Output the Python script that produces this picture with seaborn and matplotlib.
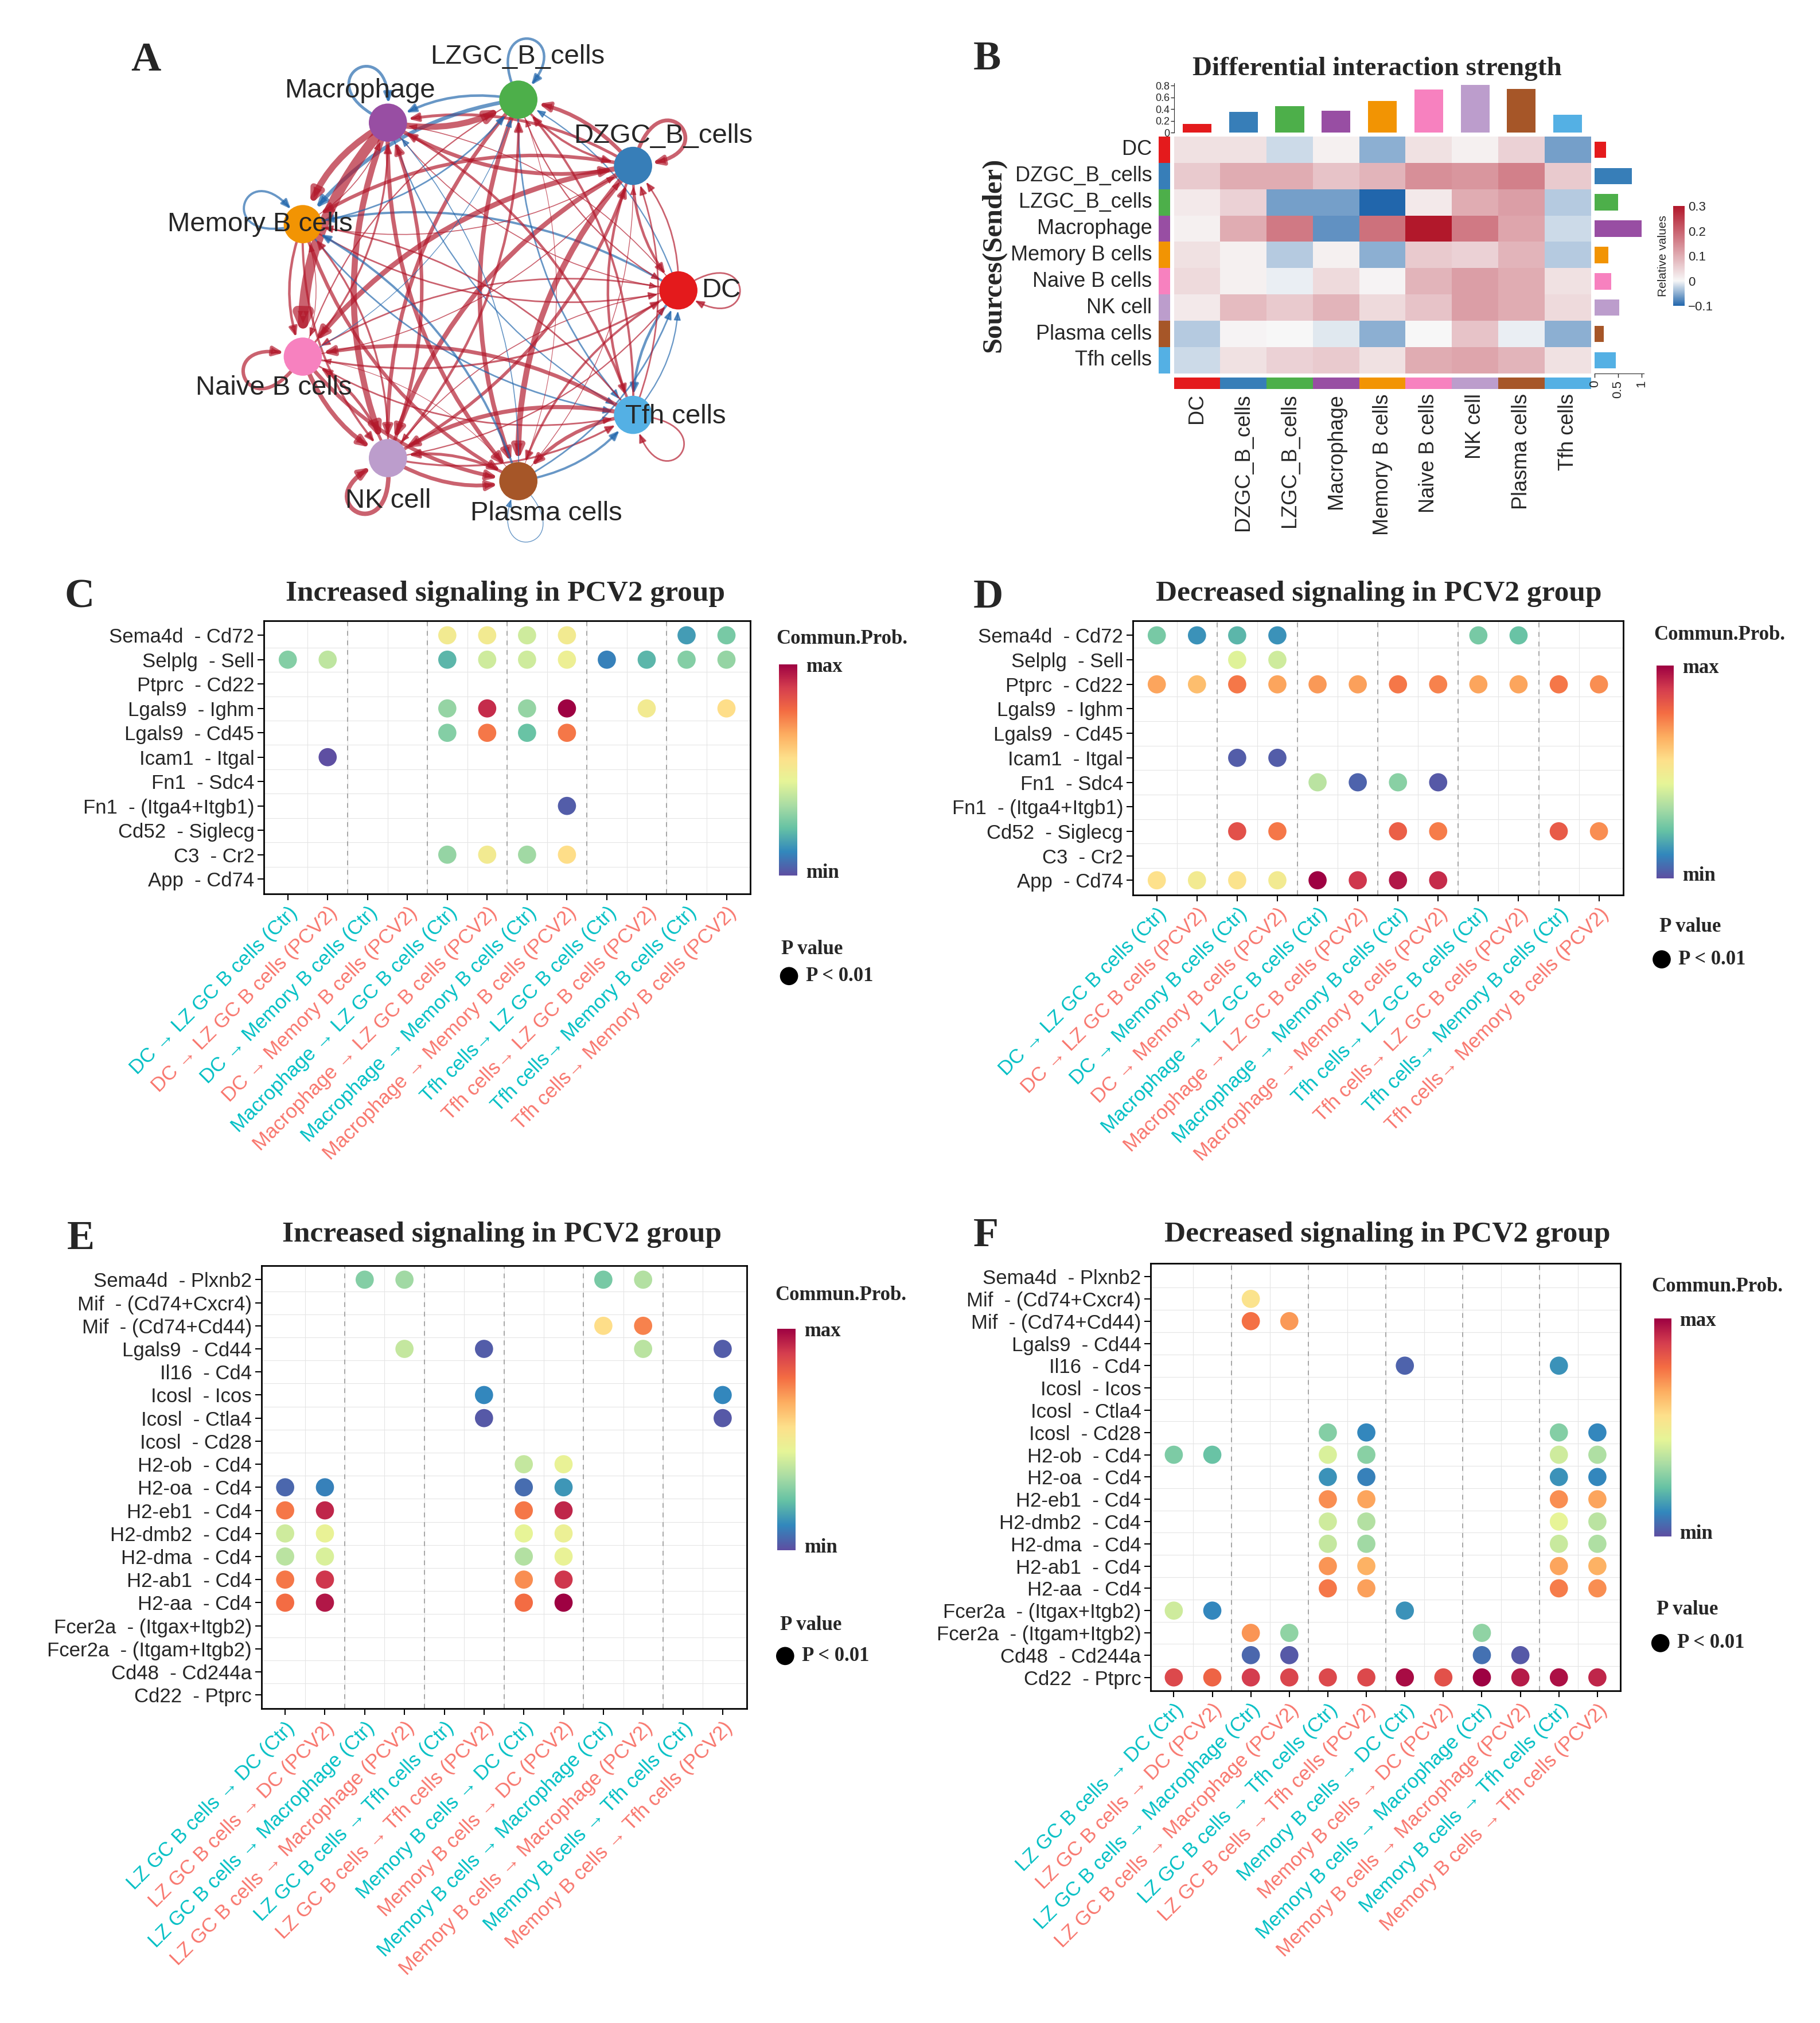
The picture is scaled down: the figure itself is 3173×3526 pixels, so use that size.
import numpy as np
import pandas as pd
import matplotlib
matplotlib.use('Agg')
import matplotlib.pyplot as plt
import seaborn as sns
from matplotlib.colors import LinearSegmentedColormap, ListedColormap
from matplotlib.patches import FancyArrowPatch
from matplotlib.path import Path

n = np.nan

# ---------------- data ----------------
cell_types = ['DC', 'DZGC_B_cells', 'LZGC_B_cells', 'Macrophage', 'Memory B cells',
              'Naive B cells', 'NK cell', 'Plasma cells', 'Tfh cells']
node_colors = ['#E41A1C', '#377EB8', '#4DAF4A', '#984EA3', '#F29403',
               '#F781BF', '#BC9DCC', '#A65628', '#54B0E4']

# differential interaction strength, rows = sender, cols = receiver
diff_dc = [0.03, 0.03, -0.02, 0.01, -0.05, 0.03, 0.01, 0.05, -0.06]
diff_dzgc = [0.06, 0.10, 0.10, 0.07, 0.09, 0.14, 0.13, 0.16, 0.06]
diff_lzgc = [0.02, 0.05, -0.06, -0.06, -0.10, 0.02, 0.10, 0.12, -0.03]
diff_macro = [0.01, 0.10, 0.17, -0.07, 0.18, 0.30, 0.17, 0.11, -0.02]
diff_memb = [0.03, 0.01, -0.03, 0.01, -0.05, 0.06, 0.05, 0.09, -0.03]
diff_naive = [0.04, 0.01, -0.005, 0.04, 0.005, 0.09, 0.12, 0.10, 0.03]
diff_nk = [0.02, 0.08, 0.06, 0.09, 0.04, 0.07, 0.12, 0.10, 0.04]
diff_plasma = [-0.03, 0.005, 0.001, -0.01, -0.05, 0.001, 0.07, -0.005, -0.05]
diff_tfh = [-0.02, 0.03, 0.05, 0.06, 0.03, 0.10, 0.11, 0.09, 0.03]
diff_rows = [diff_dc, diff_dzgc, diff_lzgc, diff_macro, diff_memb,
             diff_naive, diff_nk, diff_plasma, diff_tfh]

top_bar = [0.145, 0.35, 0.45, 0.37, 0.54, 0.73, 0.81, 0.74, 0.30]
right_bar = [0.24, 0.80, 0.50, 1.00, 0.29, 0.35, 0.52, 0.19, 0.45]

# bubble plots C / D
cd_cols = ['DC \u2192 LZ GC B cells (Ctr)', 'DC \u2192 LZ GC B cells (PCV2)',
           'DC \u2192 Memory B cells (Ctr)', 'DC \u2192 Memory B cells (PCV2)',
           'Macrophage \u2192 LZ GC B cells (Ctr)', 'Macrophage \u2192 LZ GC B cells (PCV2)',
           'Macrophage \u2192 Memory B cells (Ctr)', 'Macrophage \u2192 Memory B cells (PCV2)',
           'Tfh cells\u2192 LZ GC B cells (Ctr)', 'Tfh cells\u2192 LZ GC B cells (PCV2)',
           'Tfh cells\u2192 Memory B cells (Ctr)', 'Tfh cells\u2192 Memory B cells (PCV2)']
cd_rows = ['Sema4d  - Cd72', 'Selplg  - Sell', 'Ptprc  - Cd22', 'Lgals9  - Ighm',
           'Lgals9  - Cd45', 'Icam1  - Itgal', 'Fn1  - Sdc4', 'Fn1  - (Itga4+Itgb1)',
           'Cd52  - Siglecg', 'C3  - Cr2', 'App  - Cd74']
c_prob = [
    [n, n, n, n, .50, .50, .40, .50, n, n, .15, .25],
    [.27, .37, n, n, .20, .40, .40, .48, .10, .20, .27, .30],
    [n] * 12,
    [n, n, n, n, .30, .92, .30, 1.0, n, .50, n, .56],
    [n, n, n, n, .27, .76, .23, .76, n, n, n, n],
    [n, .00, n, n, n, n, n, n, n, n, n, n],
    [n] * 12,
    [n, n, n, n, n, n, n, .03, n, n, n, n],
    [n] * 12,
    [n, n, n, n, .30, .50, .32, .56, n, n, n, n],
    [n] * 12,
]
d_prob = [
    [.25, .13, .20, .13, n, n, n, n, .25, .23, n, n],
    [n, n, .43, .40, n, n, n, n, n, n, n, n],
    [.68, .63, .76, .68, .70, .69, .76, .74, .68, .68, .76, .72],
    [n] * 12,
    [n] * 12,
    [n, n, .03, .03, n, n, n, n, n, n, n, n],
    [n, n, n, n, .36, .04, .28, .02, n, n, n, n],
    [n] * 12,
    [n, n, .84, .76, n, n, .81, .75, n, n, .82, .72],
    [n] * 12,
    [.55, .50, .54, .50, 1.0, .90, .96, .92, n, n, n, n],
]

# bubble plots E / F
ef_cols = ['LZ GC B cells \u2192 DC (Ctr)', 'LZ GC B cells \u2192 DC (PCV2)',
           'LZ GC B cells \u2192 Macrophage (Ctr)', 'LZ GC B cells \u2192 Macrophage (PCV2)',
           'LZ GC B cells \u2192 Tfh cells (Ctr)', 'LZ GC B cells \u2192 Tfh cells (PCV2)',
           'Memory B cells \u2192 DC (Ctr)', 'Memory B cells \u2192 DC (PCV2)',
           'Memory B cells \u2192 Macrophage (Ctr)', 'Memory B cells \u2192 Macrophage (PCV2)',
           'Memory B cells \u2192 Tfh cells (Ctr)', 'Memory B cells \u2192 Tfh cells (PCV2)']
ef_rows = ['Sema4d  - Plxnb2', 'Mif  - (Cd74+Cxcr4)', 'Mif  - (Cd74+Cd44)', 'Lgals9  - Cd44',
           'Il16  - Cd4', 'Icosl  - Icos', 'Icosl  - Ctla4', 'Icosl  - Cd28', 'H2-ob  - Cd4',
           'H2-oa  - Cd4', 'H2-eb1  - Cd4', 'H2-dmb2  - Cd4', 'H2-dma  - Cd4', 'H2-ab1  - Cd4',
           'H2-aa  - Cd4', 'Fcer2a  - (Itgax+Itgb2)', 'Fcer2a  - (Itgam+Itgb2)',
           'Cd48  - Cd244a', 'Cd22  - Ptprc']
e_prob = [
    [n, n, .27, .32, n, n, n, n, .25, .35, n, n],
    [n] * 12,
    [n, n, n, n, n, n, n, n, .56, .74, n, n],
    [n, n, n, .38, n, .03, n, n, n, .36, n, .03],
    [n] * 12,
    [n, n, n, n, n, .11, n, n, n, n, n, .11],
    [n, n, n, n, n, .02, n, n, n, n, n, .02],
    [n] * 12,
    [n, n, n, n, n, n, .38, .46, n, n, n, n],
    [.05, .10, n, n, n, n, .06, .14, n, n, n, n],
    [.76, .93, n, n, n, n, .76, .93, n, n, n, n],
    [.40, .46, n, n, n, n, .45, .47, n, n, n, n],
    [.36, .42, n, n, n, n, .35, .46, n, n, n, n],
    [.76, .90, n, n, n, n, .72, .90, n, n, n, n],
    [.78, .96, n, n, n, n, .78, 1.0, n, n, n, n],
    [n] * 12,
    [n] * 12,
    [n] * 12,
    [n] * 12,
]
f_prob = [
    [n] * 12,
    [n, n, .54, n, n, n, n, n, n, n, n, n],
    [n, n, .77, .70, n, n, n, n, n, n, n, n],
    [n] * 12,
    [n, n, n, n, n, n, .04, n, n, n, .13, n],
    [n] * 12,
    [n] * 12,
    [n, n, n, n, .27, .11, n, n, n, n, .27, .11],
    [.26, .23, n, n, .42, .28, n, n, n, n, .40, .34],
    [n, n, n, n, .13, .10, n, n, n, n, .13, .11],
    [n, n, n, n, .72, .68, n, n, n, n, .72, .68],
    [n, n, n, n, .40, .35, n, n, n, n, .45, .36],
    [n, n, n, n, .38, .32, n, n, n, n, .39, .34],
    [n, n, n, n, .71, .66, n, n, n, n, .68, .66],
    [n, n, n, n, .76, .69, n, n, n, n, .75, .72],
    [.40, .11, n, n, n, n, .13, n, n, n, n, n],
    [n, n, .71, .29, n, n, n, n, .29, n, n, n],
    [n, n, .05, .02, n, n, n, n, .07, .02, n, n],
    [.86, .80, .89, .87, .86, .86, .98, .84, 1.0, .95, .97, .93],
]

# ---------------- style ----------------
sns.set_style('white')
plt.rcParams['font.family'] = ['Liberation Sans', 'DejaVu Sans']
SERIF = ['Liberation Serif', 'DejaVu Serif']
CYAN, SALMON = '#00BFC4', '#F8766D'
spectral10 = ['#5E4FA2', '#3288BD', '#66C2A5', '#ABDDA4', '#E6F598',
              '#FEE08B', '#FDAE61', '#F46D43', '#D53E4F', '#9E0142']
cmap_prob = LinearSegmentedColormap.from_list('prob', spectral10)

OW, OH = 1414, 1571
fig = plt.figure(figsize=(31.73, 35.26), dpi=100)


def place(x0, y0, x1, y1):
    return fig.add_axes([x0 / OW, 1 - y1 / OH, (x1 - x0) / OW, (y1 - y0) / OH])


def ftext(x, y, s, **kw):
    fig.text(x / OW, 1 - y / OH, s, **kw)


def bold_text(x, y, s, size, **kw):
    kw.setdefault('ha', 'left')
    ftext(x, y, s, fontsize=size, fontweight='bold', family=SERIF, va='center', **kw)


# ---------------- A: network ----------------
ax = place(146.6, 10.5, 606.6, 440.5)
theta = np.deg2rad(np.arange(9) * 40)
pos = np.c_[np.cos(theta), np.sin(theta)]
diff = np.array(diff_rows)
wmax = np.abs(diff).max()
for i in range(9):
    for j in range(9):
        w = diff[i, j]
        col = '#B2182B' if w > 0 else '#2166AC'
        lw = 0.8 + 12 * abs(w) / wmax
        style = '-|>,head_length=%.2f,head_width=%.2f' % (0.4 + lw * 0.03, 0.16 + lw * 0.015)
        if i == j:
            t = theta[i]
            d = lambda a, r: pos[i] + r * np.array([np.cos(t + a), np.sin(t + a)])
            path = Path([d(0.55, 0.1), d(0.5, 0.45), d(-0.5, 0.45), d(-0.55, 0.1)],
                        [Path.MOVETO, Path.CURVE4, Path.CURVE4, Path.CURVE4])
            p = FancyArrowPatch(path=path, arrowstyle=style, mutation_scale=20, lw=lw,
                                color=col, alpha=0.68, zorder=1)
        else:
            p = FancyArrowPatch(pos[i], pos[j], connectionstyle='arc3,rad=0.2',
                                arrowstyle=style, mutation_scale=20, lw=lw, color=col,
                                alpha=0.68, shrinkA=22, shrinkB=26, zorder=1)
        ax.add_patch(p)
sns.scatterplot(x=pos[:, 0], y=pos[:, 1], hue=cell_types,
                palette=dict(zip(cell_types, node_colors)), s=2300, edgecolor='none',
                legend=False, ax=ax, zorder=5)
label_deg = [0, 45, 91, 131, 180, 227, 270, 311, 358]
for k, name in enumerate(cell_types):
    a = np.deg2rad(label_deg[k])
    ax.text(pos[k, 0] + 0.22 * np.cos(a), pos[k, 1] + 0.22 * np.sin(a), name,
            ha='center', va='center', fontsize=34, zorder=6)
ax.set_xlim(-1.529, 1.529)
ax.set_ylim(-1.4295, 1.4295)
ax.set_axis_off()
bold_text(101.5, 47, 'A', 52)

# ---------------- B: heatmap ----------------
cmap_rb = LinearSegmentedColormap.from_list('rb', [(0, '#2166AC'), (0.25, '#F7F7F7'), (1, '#B2182B')])
ax_hm = place(912, 106, 1236, 290)
cax = place(1300, 160, 1309, 237.5)
mat = pd.DataFrame(diff, index=cell_types, columns=cell_types)
sns.heatmap(mat, ax=ax_hm, cmap=cmap_rb, vmin=-0.1, vmax=0.3, cbar_ax=cax,
            xticklabels=False, yticklabels=False)
ax_hm.collections[0].colorbar.outline.set_visible(False)
cax.set_yticks([-0.1, 0, 0.1, 0.2, 0.3])
cax.set_yticklabels(['\u22120.1', '0', '0.1', '0.2', '0.3'])
cax.tick_params(labelsize=16, length=0, pad=4)
cax.set_ylabel('Relative values', fontsize=15, labelpad=6)
cax.yaxis.set_label_position('left')

ax_ls = place(900, 106, 909, 290)
sns.heatmap(np.arange(9)[:, None], cmap=ListedColormap(node_colors), cbar=False, ax=ax_ls,
            xticklabels=False, yticklabels=cell_types)
ax_ls.tick_params(length=0, labelsize=26, pad=8)
plt.setp(ax_ls.get_yticklabels(), rotation=0)

ax_bs = place(912, 293, 1236, 302)
sns.heatmap(np.arange(9)[None, :], cmap=ListedColormap(node_colors), cbar=False, ax=ax_bs,
            xticklabels=cell_types, yticklabels=False)
ax_bs.tick_params(length=0, labelsize=26, pad=6)
plt.setp(ax_bs.get_xticklabels(), rotation=90)

ax_tb = place(912, 64.6, 1236, 103)
sns.barplot(x=cell_types, y=top_bar, hue=cell_types, palette=node_colors, legend=False,
            width=0.62, saturation=1, linewidth=0, ax=ax_tb)
ax_tb.set_xlim(-0.5, 8.5)
ax_tb.set_ylim(0, 0.84)
sns.despine(ax=ax_tb, bottom=True)
ax_tb.set_xticks([])
ax_tb.set_yticks([0, 0.2, 0.4, 0.6, 0.8])
ax_tb.set_yticklabels(['0', '0.2', '0.4', '0.6', '0.8'])
ax_tb.tick_params(axis='y', labelsize=13, length=4, width=1, pad=1, left=True)
ax_tb.set_xlabel('')
ax_tb.set_ylabel('')

ax_rb = place(1239, 106, 1277, 290)
sns.barplot(x=right_bar, y=cell_types, hue=cell_types, palette=node_colors, legend=False,
            orient='h', width=0.62, saturation=1, linewidth=0, ax=ax_rb)
ax_rb.set_ylim(8.5, -0.5)
ax_rb.set_xlim(0, 1.05)
sns.despine(ax=ax_rb, left=True)
ax_rb.set_yticks([])
ax_rb.set_xticks([0, 0.5, 1])
ax_rb.set_xticklabels(['0', '0.5', '1'], rotation=90)
ax_rb.tick_params(axis='x', labelsize=16, length=5, width=1, bottom=True)
ax_rb.set_xlabel('')
ax_rb.set_ylabel('')

bold_text(756, 46, 'B', 52)
bold_text(1070, 53.6, 'Differential interaction strength', 34, ha='center')
ftext(772, 198, 'Sources(Sender)', fontsize=35, fontweight='bold', family=SERIF,
      rotation=90, ha='center', va='center')


# ---------------- C-F: bubble plots ----------------
def bubble(box, rows, cols, prob):
    ax = place(*box)
    recs = [(j, i, v) for i, r in enumerate(prob) for j, v in enumerate(r) if not np.isnan(v)]
    df = pd.DataFrame(recs, columns=['x', 'y', 'prob'])
    nr, nc = len(rows), len(cols)
    for k in range(nc - 1):
        ax.axvline(k + 0.5, color='#E5E5E5', lw=0.8, zorder=0)
    for k in range(nr - 1):
        ax.axhline(k + 0.5, color='#E5E5E5', lw=0.8, zorder=0)
    for k in range(1, nc - 1, 2):
        ax.axvline(k + 0.5, color='#9A9A9A', lw=1.2, ls=(0, (5, 5)), zorder=1)
    sns.scatterplot(data=df, x='x', y='y', hue='prob', palette=cmap_prob, hue_norm=(0, 1),
                    s=520, edgecolor='none', legend=False, ax=ax, zorder=3)
    ax.set_xlim(-0.6, nc - 0.4)
    ax.set_ylim(nr - 0.4, -0.6)
    ax.set_xticks(range(nc))
    ax.set_xticklabels(cols, rotation=45, ha='right', va='top', rotation_mode='anchor', fontsize=25)
    for k, t in enumerate(ax.get_xticklabels()):
        t.set_color(CYAN if k % 2 == 0 else SALMON)
    ax.set_yticks(range(nr))
    ax.set_yticklabels(rows, fontsize=25)
    ax.tick_params(length=8, width=1.5, color='black', bottom=True, left=True, pad=4)
    ax.set_xlabel('')
    ax.set_ylabel('')
    for s in ax.spines.values():
        s.set_visible(True)
        s.set_color('black')
        s.set_linewidth(2)
    return ax


def bubble_legend(cb_box, title_y, dot_xy, pval_y):
    x0, y0, x1, y1 = cb_box
    cb = place(*cb_box)
    cb.imshow(np.linspace(1, 0, 256)[:, None], aspect='auto', cmap=cmap_prob)
    cb.set_axis_off()
    bold_text(x0 - 2, title_y, 'Commun.Prob.', 25)
    bold_text(x1 + 7, y0 + 2, 'max', 25)
    bold_text(x1 + 7, y1 - 2, 'min', 25)
    bold_text(x0 + 2, pval_y, 'P value', 25)
    dx, dy = dot_xy
    dax = place(dx - 10, dy - 10, dx + 10, dy + 10)
    dax.scatter([0], [0], s=520, color='black', edgecolor='none')
    dax.set_xlim(-1, 1)
    dax.set_ylim(-1, 1)
    dax.set_axis_off()
    bold_text(dx + 13, dy, 'P < 0.01', 25)


bubble((205, 482, 583, 694), cd_rows, cd_cols, c_prob)
bold_text(50, 464, 'C', 52)
bold_text(392.5, 461, 'Increased signaling in PCV2 group', 37, ha='center')
bubble_legend((605, 516, 619, 680), 496, (613, 758), 737)

bubble((880, 482, 1261, 695), cd_rows, cd_cols, d_prob)
bold_text(756, 464, 'D', 52)
bold_text(1071, 461, 'Decreased signaling in PCV2 group', 37, ha='center')
bubble_legend((1287, 517, 1300, 682), 493, (1291, 745), 720)

bubble((203, 983, 580, 1327), ef_rows, ef_cols, e_prob)
bold_text(52, 962, 'E', 52)
bold_text(390, 959, 'Increased signaling in PCV2 group', 37, ha='center')
bubble_legend((604, 1032, 618, 1204), 1006, (610, 1286), 1262)

bubble((894, 981, 1259, 1313), ef_rows, ef_cols, f_prob)
bold_text(756, 960, 'F', 52)
bold_text(1078, 959, 'Decreased signaling in PCV2 group', 37, ha='center')
bubble_legend((1285, 1024, 1298, 1193), 999, (1290, 1276), 1250)

fig.savefig('out.png', dpi=100)
